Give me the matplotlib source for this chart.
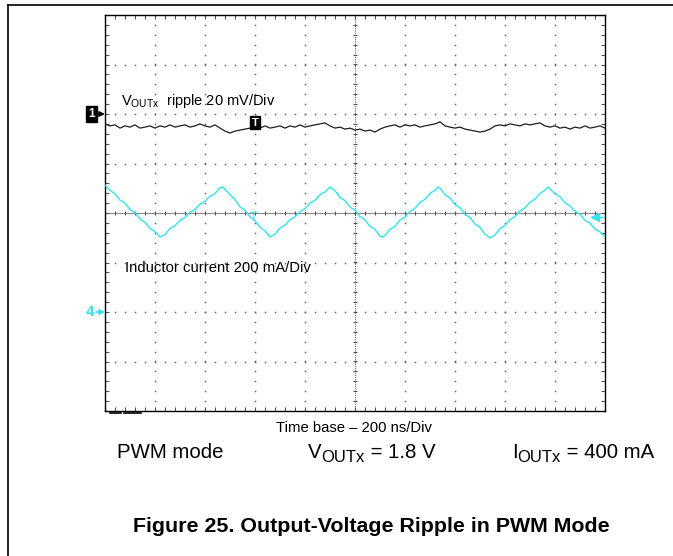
import numpy as np
import matplotlib
matplotlib.use("Agg")
import matplotlib.pyplot as plt
from matplotlib.lines import Line2D

plt.rcParams['font.family'] = ['Liberation Sans', 'DejaVu Sans']
plt.rcParams['mathtext.fontset'] = 'custom'
plt.rcParams['mathtext.rm'] = 'Liberation Sans'
plt.rcParams['mathtext.it'] = 'Liberation Sans'
plt.rcParams['mathtext.default'] = 'regular'

# ---------------- data ----------------
# Channel 1: output-voltage ripple (mV, relative to channel-1 ground marker), 20 mV/div
vout_ripple_mv = [
    -4.0, -4.8, -4.4, -5.7, -4.8, -5.3, -4.4, -5.7, -5.3, -4.8,
    -5.7, -4.8, -5.3, -4.4, -5.3, -4.8, -4.4, -5.3, -4.8, -4.0,
    -4.8, -5.3, -4.4, -5.7, -6.9, -7.7, -6.9, -6.5, -6.1, -5.7,
    -5.3, -5.7, -4.8, -5.7, -5.3, -4.8, -5.7, -4.8, -5.3, -4.4,
    -5.3, -4.8, -4.4, -4.0, -3.6, -4.8, -5.7, -5.3, -6.1, -5.7,
    -6.5, -6.1, -6.9, -6.5, -7.3, -6.1, -5.3, -4.8, -4.4, -5.3,
    -4.4, -4.8, -4.4, -5.3, -4.8, -4.4, -4.0, -3.2, -4.8, -5.3,
    -5.7, -5.3, -6.1, -6.5, -6.9, -7.3, -6.9, -6.1, -4.8, -4.4,
    -4.8, -4.0, -4.4, -4.8, -4.0, -4.4, -4.0, -3.6, -4.8, -5.3,
    -4.8, -5.7, -5.3, -6.1, -5.3, -5.7, -4.8, -5.7, -5.3, -4.8,
    -5.7,
]
vout_time_ns = np.linspace(0, 2000, len(vout_ripple_mv))

# Channel 4: inductor current (mA), 200 mA/div
il_time_ns = [
    0, 20, 40, 60, 80, 100, 120, 140, 160, 180, 200, 220,
    240, 260, 280, 300, 320, 340, 360, 380, 400, 420, 440, 460, 468,
    480, 500, 520, 540, 560, 580, 600, 620, 640, 660,
    680, 700, 720, 740, 760, 780, 800, 820, 840, 860, 880, 900,
    920, 940, 960, 980, 1000, 1020, 1040, 1060, 1080, 1100, 1108,
    1120, 1140, 1160, 1180, 1200, 1220, 1240, 1260, 1280, 1300, 1320, 1332,
    1340, 1360, 1380, 1400, 1420, 1440, 1460, 1480, 1500, 1520, 1540,
    1560, 1580, 1600, 1620, 1640, 1660, 1680, 1700, 1720, 1740, 1760, 1772,
    1780, 1800, 1820, 1840, 1860, 1880, 1900, 1920, 1940, 1960, 1980, 2000,
]
il_ma = [
    513, 492, 478, 452, 440, 414, 402, 376, 362, 338, 325, 303,
    312, 338, 349, 370, 382, 403, 414, 436, 447, 468, 478, 502, 505,
    496, 474, 454, 425, 411, 384, 369, 342, 328, 303,
    314, 339, 351, 373, 384, 406, 418, 440, 451, 474, 485, 505,
    490, 463, 450, 424, 411, 386, 372, 346, 334, 306, 303,
    309, 334, 346, 371, 383, 406, 419, 443, 455, 479, 492, 505,
    500, 474, 461, 434, 421, 395, 382, 355, 342, 315, 299,
    311, 337, 350, 373, 385, 409, 420, 444, 456, 479, 492, 505,
    498, 477, 466, 441, 429, 406, 395, 370, 359, 335, 324, 303,
]

CH1_OFFSET_DIV = 2.0
CH4_OFFSET_DIV = -2.0
CH1_SCALE = 20.0    # mV/div
CH4_SCALE = 200.0   # mA/div

CYAN = '#2FE4F0'

# ---------------- figure ----------------
W, H = 673, 556
fig = plt.figure(figsize=(W / 100, H / 100), dpi=100)
fig.patch.set_facecolor('white')
renderer = fig.canvas.get_renderer()

def fx(px):
    return px / W

def fy(py):
    return 1 - py / H

def seq_text(x_px, base_px, parts):
    """Place text pieces one after another on a baseline; parts=(text, size, dy_px)."""
    x = x_px
    for s, size, dy in parts:
        t = fig.text(fx(x), fy(base_px + dy), s, fontsize=size, ha='left', va='baseline')
        bb = t.get_window_extent(renderer)
        x += bb.width

def arrow(x0, x1, y, color):
    fig.add_artist(matplotlib.patches.FancyArrowPatch(
        (fx(x0), fy(y)), (fx(x1), fy(y)), transform=fig.transFigure,
        arrowstyle='-|>', mutation_scale=7, lw=1.3, color=color,
        shrinkA=0, shrinkB=0))

# page frame lines
fig.add_artist(Line2D([fx(8), fx(8)], [fy(5), fy(556)], color='black', lw=1.2))
fig.add_artist(Line2D([fx(8), fx(673)], [fy(5), fy(5)], color='black', lw=1.2))

ax = fig.add_axes([fx(105), fy(411), 500 / W, 396 / H])
ax.set_xlim(0, 2000)
ax.set_ylim(-4, 4)
for s in ax.spines.values():
    s.set_linewidth(1.0)
    s.set_color('black')

ax.set_xticks(np.arange(0, 2001, 200))
ax.set_yticks(np.arange(-4, 4.01, 1))
ax.set_xticks(np.arange(0, 2001, 40), minor=True)
ax.set_yticks(np.arange(-4, 4.01, 0.2), minor=True)
ax.tick_params(which='both', direction='in', length=3, width=0.8, color='#555555',
               top=True, right=True, labelbottom=False, labelleft=False)

grid_c = '#666666'
xmin_dots = np.arange(0, 2001, 40)
ymin_dots = np.arange(-4, 4.01, 0.2)
for xv in np.arange(200, 2000, 200):
    if xv == 1000:
        continue
    ax.plot(np.full_like(ymin_dots, xv), ymin_dots, ls='none', marker='s', ms=1.1,
            mew=0, color=grid_c, zorder=1)
for yv in [-3, -2, -1, 1, 2, 3]:
    ax.plot(xmin_dots, np.full_like(xmin_dots, yv, dtype=float), ls='none', marker='s',
            ms=1.1, mew=0, color=grid_c, zorder=1)

# center cross
ax.axhline(0, color='#8a8a8a', lw=0.8, zorder=1)
ax.axvline(1000, color='#666666', lw=0.8, ls=(0, (1, 1)), zorder=1)
ax.plot(xmin_dots, np.zeros_like(xmin_dots, dtype=float), ls='none', marker='|', ms=3,
        mew=0.8, color='#555555', zorder=1)
ax.plot(np.full_like(ymin_dots, 1000), ymin_dots, ls='none', marker='_', ms=3,
        mew=0.8, color='#555555', zorder=1)

# traces
ch1_y = CH1_OFFSET_DIV + np.array(vout_ripple_mv) / CH1_SCALE
ch4_y = CH4_OFFSET_DIV + np.array(il_ma) / CH4_SCALE
ax.plot(vout_time_ns, ch1_y, color='#1e1e1e', lw=0.9, zorder=3)
ax.plot(il_time_ns, ch4_y, color=CYAN, lw=1.0, zorder=3)

# cyan trigger level marker at right edge
ax.plot([1960], [-0.08], marker='<', ms=6, color=CYAN, ls='none', zorder=4)
ax.plot([1960, 2000], [-0.08, -0.08], color=CYAN, lw=1.0, zorder=4)

# trigger markers
fig.text(fx(255), fy(122.5), 'T', color='white', fontsize=8, fontweight='bold',
         ha='center', va='center',
         bbox=dict(boxstyle='square,pad=0.12', fc='black', ec='black'))
fig.text(fx(253.5), fy(218), 'T', color=CYAN, fontsize=9, ha='center', va='center')

# channel markers
fig.text(fx(91.5), fy(114), '1', color='white', fontsize=8.5, fontweight='bold',
         ha='center', va='center',
         bbox=dict(boxstyle='square,pad=0.18', fc='black', ec='black'))
arrow(96.5, 105, 114, 'black')
fig.text(fx(90), fy(312), '4', color=CYAN, fontsize=11, fontweight='bold',
         ha='center', va='center')
arrow(96, 105, 312, CYAN)

# bottom-left dashes
fig.add_artist(Line2D([fx(110), fx(121)], [fy(412.5), fy(412.5)], color='black', lw=1.2))
fig.add_artist(Line2D([fx(124), fx(141)], [fy(412.5), fy(412.5)], color='black', lw=1.2))

# annotations
fig.text(fx(121), fy(101), r'V$_{OUTx}$  ripple 20 mV/Div', fontsize=10.5,
         ha='left', va='center', color='black')
fig.text(fx(125), fy(268), 'Inductor current 200 mA/Div', fontsize=10.7,
         ha='left', va='center', color='black')
fig.text(fx(354), fy(428), 'Time base \u2013 200 ns/Div', fontsize=10.7,
         ha='center', va='center', color='black')

BASE = 458.5
fig.text(fx(117), fy(BASE), 'PWM mode', fontsize=14.7, ha='left', va='baseline')
seq_text(308, BASE, [('V', 14.7, 0), ('OUTx', 12.0, 4), (' = 1.8 V', 14.7, 0)])
seq_text(512, BASE, [('I', 14.7, 0), ('OUTx', 12.0, 4), (' = 400 mA', 14.7, 0)])

fig.text(fx(371.5), fy(527), 'Figure 25. Output-Voltage Ripple in PWM Mode', fontsize=15.4,
         fontweight='bold', ha='center', va='center')

fig.savefig('out.png', dpi=100, facecolor='white')
